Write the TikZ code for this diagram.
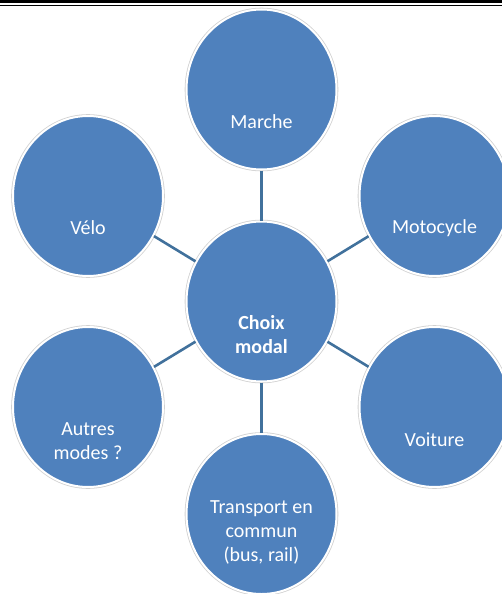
\documentclass[tikz,border=0pt]{standalone}
\usepackage{fontspec}
\setmainfont{Carlito}
\usetikzlibrary{shapes.geometric}
\definecolor{modefill}{HTML}{4F81BD}
\definecolor{modelink}{HTML}{41719C}

\begin{document}
\begin{tikzpicture}[x = 1pt, y = -1pt,
    bubble/.style = {ellipse, fill = modefill, draw = white, line width = 2pt, minimum width = 150pt, minimum height = 160pt, inner sep = 0pt, preaction = {draw = black!18, line width = 3.6pt}},
    caption/.style = {text = white, align = center, inner sep = 0pt, font = \fontsize{20}{24}\selectfont},
    link/.style = {draw = modelink, line width = 2.6pt}]
            \useasboundingbox (0,0) rectangle (502,594);
            % double rule along the top
            \draw[line width = 3.4pt] (0,1.7) -- (502,1.7);
            \draw[line width = 1.2pt] (0,5.4) -- (502,5.4);
            % bubbles
            \node[bubble] (choix) at (261.5,301.5) {};
            \node[bubble] (marche) at (261.5,89.5) {};
            \node[bubble] (moto) at (434.5,196) {};
            \node[bubble] (voiture) at (434.5,407) {};
            \node[bubble] (transport) at (261.5,514) {};
            \node[bubble] (autres) at (88,407) {};
            \node[bubble] (velo) at (88,196) {};
            % links
            \foreach \m in {marche, moto, voiture, transport, autres, velo}
                \draw[link] (choix) -- (\m);
            % captions
            \node[caption, font = \fontsize{20}{24}\selectfont\bfseries] (choix-t) at ([yshift = -33pt]choix.center) {Choix\\modal};
            \node[caption] (marche-t) at ([yshift = -32pt]marche.center) {Marche};
            \node[caption] (moto-t) at ([yshift = -32pt]moto.center) {Motocycle};
            \node[caption] (voiture-t) at ([yshift = -33pt]voiture.center) {Voiture};
            \node[caption] (transport-t) at ([yshift = -18pt]transport.center) {Transport en\\commun\\(bus, rail)};
            \node[caption] (autres-t) at ([yshift = -34pt]autres.center) {Autres\\modes ?};
            \node[caption] (velo-t) at ([yshift = -32pt]velo.center) {Vélo};
        \end{tikzpicture}
\end{document}
